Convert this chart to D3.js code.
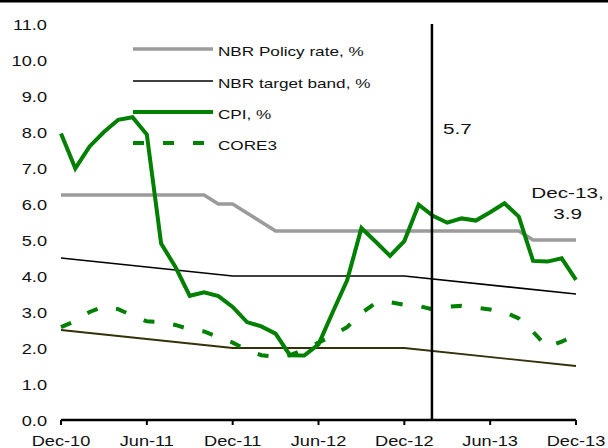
<!DOCTYPE html>
<html>
<head>
<meta charset="utf-8">
<script src="https://cdn.jsdelivr.net/npm/d3@7"></script>
<style>
  body { margin: 0; background: #fff; }
  svg { display: block; font-family: "Liberation Sans", Arial, sans-serif; }
</style>
</head>
<body>
<div id="chart"></div>
<script>
// months on the x axis, Dec-10 .. Dec-13
const months = [
    'Dec-10', 'Jan-11', 'Feb-11', 'Mar-11', 'Apr-11', 'May-11', 'Jun-11', 'Jul-11', 'Aug-11', 'Sep-11', 'Oct-11', 'Nov-11',
    'Dec-11', 'Jan-12', 'Feb-12', 'Mar-12', 'Apr-12', 'May-12', 'Jun-12', 'Jul-12', 'Aug-12', 'Sep-12', 'Oct-12', 'Nov-12',
    'Dec-12', 'Jan-13', 'Feb-13', 'Mar-13', 'Apr-13', 'May-13', 'Jun-13', 'Jul-13', 'Aug-13', 'Sep-13', 'Oct-13', 'Nov-13',
    'Dec-13'
];
const xTickLabels = ['Dec-10', 'Jun-11', 'Dec-11', 'Jun-12', 'Dec-12', 'Jun-13', 'Dec-13'];
const yTicks = [0, 1, 2, 3, 4, 5, 6, 7, 8, 9, 10, 11];

const policyRate = [
    6.25, 6.25, 6.25, 6.25, 6.25, 6.25, 6.25, 6.25, 6.25, 6.25, 6.25, 6.0,
    6.0, 5.75, 5.5, 5.25, 5.25, 5.25, 5.25, 5.25, 5.25, 5.25, 5.25, 5.25,
    5.25, 5.25, 5.25, 5.25, 5.25, 5.25, 5.25, 5.25, 5.25, 5.0, 5.0, 5.0,
    5.0
];
const cpi = [
    7.96, 6.99, 7.6, 8.0, 8.34, 8.41, 7.93, 4.9, 4.25, 3.45, 3.55, 3.44,
    3.14, 2.72, 2.6, 2.4, 1.8, 1.79, 2.1, 3.0, 3.88, 5.33, 4.95, 4.56,
    4.97, 5.98, 5.67, 5.48, 5.6, 5.54, 5.77, 6.02, 5.65, 4.42, 4.4, 4.49,
    3.89
];
const core3 = [
    2.58, 2.75, 3.0, 3.15, 3.08, 2.9, 2.74, 2.72, 2.64, 2.52, 2.46, 2.3,
    2.15, 1.95, 1.8, 1.76, 1.8, 1.95, 2.15, 2.35, 2.58, 2.97, 3.25, 3.27,
    3.2, 3.17, 3.07, 3.15, 3.17, 3.12, 3.07, 3.0, 2.82, 2.45, 2.02, 2.18,
    2.35
];
// target band corners (straight segments between them)
const bandMonths = ['Dec-10', 'Dec-11', 'Dec-12', 'Dec-13'];
const bandUpper = [4.5, 4.0, 4.0, 3.5];
const bandLower = [2.5, 2.0, 2.0, 1.5];

const markerMonth = 'Feb-13';

const width = 608;
const height = 448;
const stretch = 1.3; // the original text is drawn a bit wide

const svg = d3.select('#chart')
    .append('svg')
    .attr('width', width)
    .attr('height', height);

const x = d3.scalePoint().domain(months).range([61, 576]);
const y = d3.scaleLinear().domain([0, 11]).range([420, 24]);

// black rule along the top
svg.append('rect')
    .attr('x', 0).attr('y', 0)
    .attr('width', width).attr('height', 2.5)
    .attr('fill', '#000');

function addText(tx, ty, str, size, anchor, sx) {
    return svg.append('text')
        .attr('transform', `translate(${tx},${ty}) scale(${sx || stretch},1)`)
        .attr('text-anchor', anchor || 'start')
        .attr('font-size', size)
        .attr('fill', '#111')
        .text(str);
}

// y labels (no axis line)
yTicks.forEach(function(v) {
    addText(47, y(v) + 6, d3.format('.1f')(v), 14, 'end');
});

// x axis
const xAxis = svg.append('g').attr('transform', `translate(0, ${y(0)})`);
xAxis.append('line')
    .attr('x1', x(months[0])).attr('x2', x(months[months.length - 1]))
    .attr('stroke', '#000').attr('stroke-width', 2.5);
xAxis.selectAll('line.tick')
    .data(xTickLabels)
    .join('line')
    .attr('class', 'tick')
    .attr('x1', function(d) { return x(d); })
    .attr('x2', function(d) { return x(d); })
    .attr('y1', 0).attr('y2', 5)
    .attr('stroke', '#000').attr('stroke-width', 2);
xTickLabels.forEach(function(m) {
    addText(x(m), 446, m, 14, 'middle');
});

const line = d3.line()
    .x(function(d) { return x(d[0]); })
    .y(function(d) { return y(d[1]); });

function series(vals) {
    return months.map(function(m, i) { return [m, vals[i]]; });
}

// target band
svg.append('path')
    .datum(bandMonths.map(function(m, i) { return [m, bandUpper[i]]; }))
    .attr('d', line)
    .attr('fill', 'none').attr('stroke', '#000').attr('stroke-width', 1.6);
svg.append('path')
    .datum(bandMonths.map(function(m, i) { return [m, bandLower[i]]; }))
    .attr('d', line)
    .attr('fill', 'none').attr('stroke', '#33300a').attr('stroke-width', 1.8);

// policy rate
svg.append('path')
    .datum(series(policyRate))
    .attr('d', line)
    .attr('fill', 'none').attr('stroke', '#9b9b9b').attr('stroke-width', 3.6)
    .attr('stroke-linejoin', 'round');

// core3 dashed
svg.append('path')
    .datum(series(core3))
    .attr('d', line)
    .attr('fill', 'none').attr('stroke', '#008000').attr('stroke-width', 4)
    .attr('stroke-dasharray', '11,19');

// cpi
svg.append('path')
    .datum(series(cpi))
    .attr('d', line)
    .attr('fill', 'none').attr('stroke', '#008000').attr('stroke-width', 4)
    .attr('stroke-linejoin', 'miter');

// vertical marker line
svg.append('line')
    .attr('x1', x(markerMonth) - 1).attr('x2', x(markerMonth) - 1)
    .attr('y1', y(11)).attr('y2', y(0))
    .attr('stroke', '#000').attr('stroke-width', 2.5);

// annotations
addText(443, 134, '5.7', 15, 'start', 1.38);
addText(567.5, 198, 'Dec-13,', 15, 'middle', 1.38);
addText(567.5, 219, '3.9', 15, 'middle', 1.38);

// legend
const legendItems = [
    { name: 'NBR Policy rate, %', color: '#9b9b9b', w: 3.6, dash: null, ly: 49 },
    { name: 'NBR target band, %', color: '#000', w: 1.6, dash: null, ly: 81 },
    { name: 'CPI, %', color: '#008000', w: 4, dash: null, ly: 112 },
    { name: 'CORE3', color: '#008000', w: 4, dash: '11,19', ly: 143 }
];
legendItems.forEach(function(d) {
    svg.append('line')
        .attr('x1', 133).attr('x2', 213)
        .attr('y1', d.ly).attr('y2', d.ly)
        .attr('stroke', d.color).attr('stroke-width', d.w)
        .attr('stroke-dasharray', d.dash);
    addText(218, d.ly + 6.5, d.name, 13.5, 'start', 1.27);
});
</script>
</body>
</html>
